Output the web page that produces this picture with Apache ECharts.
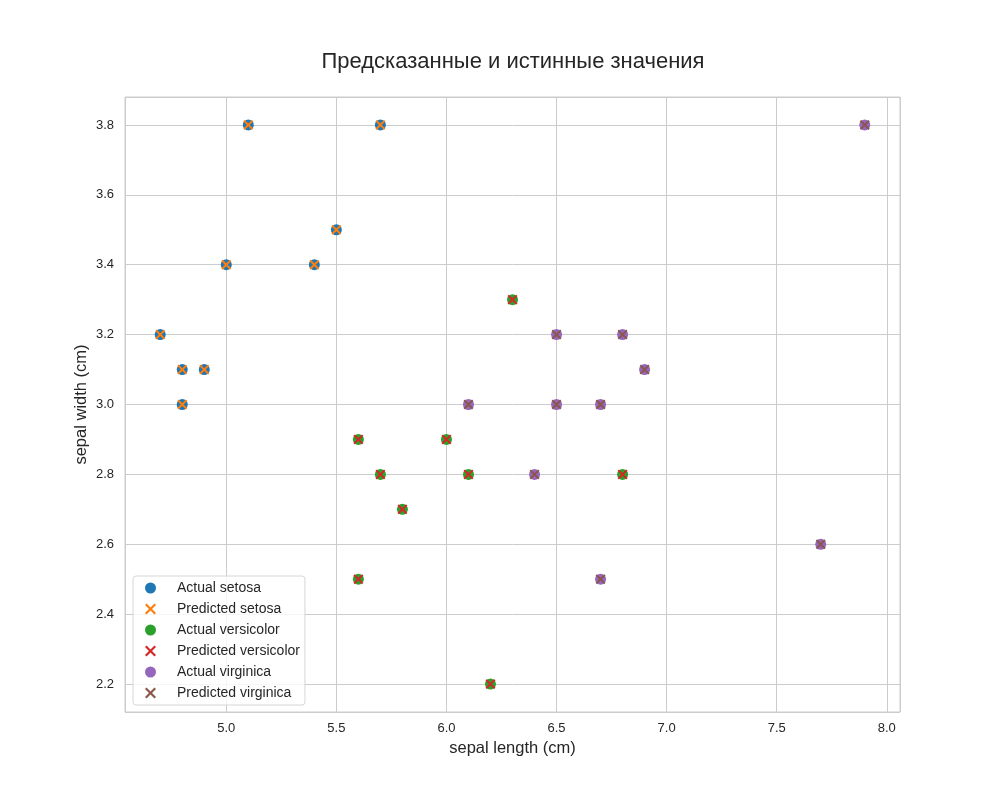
<!DOCTYPE html>
<html lang="ru">
<head>
    <meta charset="UTF-8">
    <title>Предсказанные и истинные значения</title>
    <script src="https://cdn.jsdelivr.net/npm/echarts@6/dist/echarts.min.js"></script>
    <style>
        body { margin: 0; background: #fff; }
        #chart { width: 1000px; height: 800px; }
    </style>
</head>
<body>
    <div id="chart"></div>
    <script>
        // точки по классам (sepal length, sepal width)
        const setosaX = [5.1, 5.7, 5.5, 5.0, 5.4, 4.7, 4.8, 4.9, 4.8];
        const setosaY = [3.8, 3.8, 3.5, 3.4, 3.4, 3.2, 3.1, 3.1, 3.0];
        const versicolorX = [6.3, 5.6, 6.0, 5.7, 6.1, 6.8, 5.8, 5.6, 6.2];
        const versicolorY = [3.3, 2.9, 2.9, 2.8, 2.8, 2.8, 2.7, 2.5, 2.2];
        const virginicaX = [7.9, 6.5, 6.8, 6.9, 6.1, 6.5, 6.7, 6.4, 7.7, 6.7];
        const virginicaY = [3.8, 3.2, 3.2, 3.1, 3.0, 3.0, 3.0, 2.8, 2.6, 2.5];
        const classNames = ['setosa', 'versicolor', 'virginica'];
        const actualColors = ['#1f77b4', '#2ca02c', '#9467bd'];
        const predColors = ['#ff7f0e', '#d62728', '#8c564b'];

        const xMark = 'path://M0,14L14,0L50,36L86,0L100,14L64,50L100,86L86,100L50,64L14,100L0,86L36,50Z';

        function pairs(xs, ys) {
            return xs.map((x, i) => [x, ys[i]]);
        }

        const points = [
            pairs(setosaX, setosaY),
            pairs(versicolorX, versicolorY),
            pairs(virginicaX, virginicaY)
        ];

        const series = [];
        classNames.forEach((name, i) => {
            series.push({
                name: 'Actual ' + name,
                type: 'scatter',
                data: points[i],
                symbol: 'circle',
                symbolSize: 11,
                itemStyle: { color: actualColors[i], opacity: 1 }
            });
            series.push({
                name: 'Predicted ' + name,
                type: 'scatter',
                data: points[i],
                symbol: xMark,
                symbolSize: 10,
                itemStyle: { color: predColors[i], opacity: 1 }
            });
        });

        const chart = echarts.init(document.getElementById('chart'));
        const textColor = '#262626';
        chart.setOption({
            animation: false,
            textStyle: { fontFamily: 'Liberation Sans, Arial, sans-serif' },
            title: {
                text: 'Предсказанные и истинные значения',
                left: 508,
                textAlign: 'center',
                top: 46,
                textStyle: { fontSize: 22, fontWeight: 'normal', color: textColor }
            },
            grid: {
                left: 125, right: 100, top: 97, bottom: 88,
                show: true, borderColor: '#cccccc', borderWidth: 1
            },
            legend: {
                orient: 'vertical',
                left: 133,
                top: 576,
                padding: [5, 5, 5, 12],
                itemGap: 7,
                itemWidth: 11,
                itemHeight: 11,
                backgroundColor: 'rgba(255,255,255,0.8)',
                borderColor: '#d6d6d6',
                borderWidth: 1,
                borderRadius: 3,
                textStyle: { fontSize: 14, lineHeight: 14, color: textColor, padding: [0, 0, 0, 16] },
                data: series.map((s, i) => ({
                    name: s.name,
                    icon: i % 2 === 0 ? 'circle' : xMark,
                    itemStyle: { color: s.itemStyle.color }
                }))
            },
            xAxis: {
                type: 'value',
                min: 4.54,
                max: 8.06,
                splitNumber: 7,
                name: 'sepal length (cm)',
                nameLocation: 'middle',
                nameGap: 28,
                nameMoveOverlap: false,
                nameTextStyle: { fontSize: 16.5, color: textColor },
                axisLine: { show: false },
                axisTick: { show: false },
                axisLabel: {
                    fontSize: 13, color: textColor, margin: 10,
                    showMinLabel: false, showMaxLabel: false,
                    formatter: v => v.toFixed(1)
                },
                splitLine: { lineStyle: { color: '#cccccc', width: 1 } }
            },
            yAxis: {
                type: 'value',
                min: 2.12,
                max: 3.88,
                splitNumber: 9,
                name: 'sepal width (cm)',
                nameLocation: 'middle',
                nameGap: 35,
                nameMoveOverlap: false,
                nameTextStyle: { fontSize: 16.5, color: textColor },
                axisLine: { show: false },
                axisTick: { show: false },
                axisLabel: {
                    fontSize: 13, color: textColor, margin: 11,
                    showMinLabel: false, showMaxLabel: false,
                    formatter: v => v.toFixed(1)
                },
                splitLine: { lineStyle: { color: '#cccccc', width: 1 } }
            },
            series: series
        });
    </script>
</body>
</html>
